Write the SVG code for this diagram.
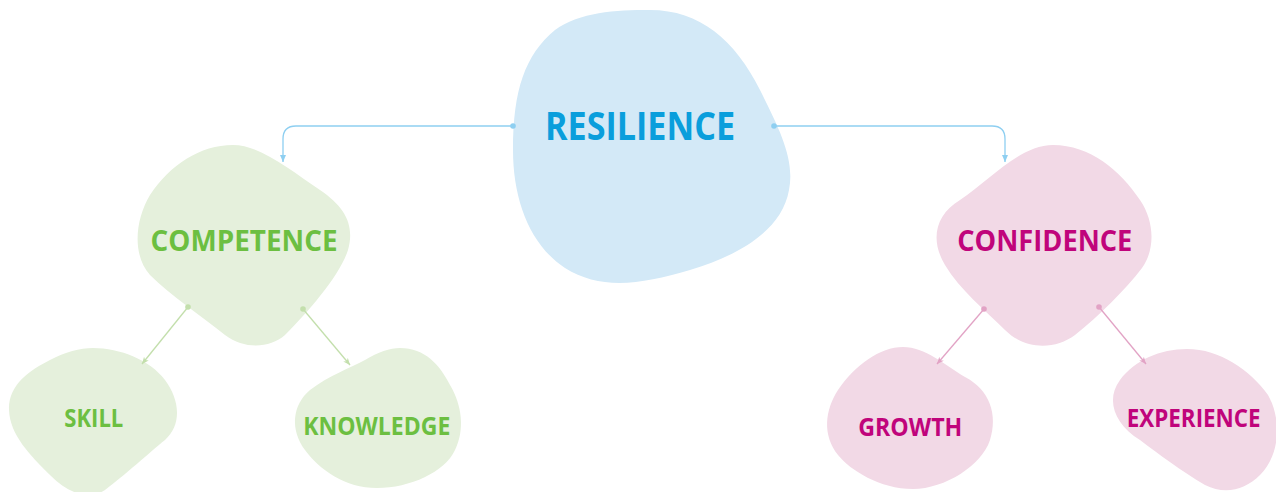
<svg xmlns="http://www.w3.org/2000/svg" width="1276" height="492" viewBox="0 0 1276 492">
  <style>
    .lbl { font-family: "Open Sans", "Noto Sans", "Liberation Sans", sans-serif; font-weight: 700; }
    .blue-fill { fill: #d3e9f7; }
    .green-fill { fill: #e5f0dc; }
    .pink-fill { fill: #f2d9e6; }
    .blue-txt { fill: #0a9edc; }
    .green-txt { fill: #6cbf41; }
    .pink-txt { fill: #c0047b; }
    .c-blue { fill: none; stroke: #8ecff1; stroke-width: 1.3; }
    .c-green { fill: none; stroke: #c3dfac; stroke-width: 1.3; }
    .c-pink { fill: none; stroke: #e2a3c5; stroke-width: 1.3; }
  </style>
  <defs>
    <marker id="arrow-blue" markerWidth="8" markerHeight="8" refX="7" refY="4" orient="auto" markerUnits="userSpaceOnUse">
      <path d="M0,1 L7,4 L0,7 Z" fill="#8ecff1"/>
    </marker>
    <marker id="arrow-green" markerWidth="8" markerHeight="8" refX="7" refY="4" orient="auto" markerUnits="userSpaceOnUse">
      <path d="M0,1 L7,4 L0,7 L2,4 Z" fill="#c3dfac"/>
    </marker>
    <marker id="arrow-pink" markerWidth="8" markerHeight="8" refX="7" refY="4" orient="auto" markerUnits="userSpaceOnUse">
      <path d="M0,1 L7,4 L0,7 L2,4 Z" fill="#e2a3c5"/>
    </marker>
  </defs>

  <!-- nodes -->
  <g id="resilience">
    <path class="blue-fill" d="M 650,10 C 700,10 735,40 760,90 C 780,130 795,160 789,190 C 782,230 740,255 690,270 C 640,285 600,290 565,268 C 530,245 513,200 513,150 C 513,90 525,55 555,30 C 580,12 615,10 650,10 Z"/>
    <text class="lbl blue-txt" x="545" y="140" font-size="39" textLength="190" lengthAdjust="spacingAndGlyphs">RESILIENCE</text>
  </g>

  <g id="competence">
    <path class="green-fill" d="M 233,145 C 260,145 290,170 320,190 C 345,207 355,225 348,250 C 340,275 310,310 285,335 C 270,348 245,350 225,335 C 200,315 170,295 150,275 C 132,255 135,220 150,195 C 170,165 200,145 233,145 Z"/>
    <text class="lbl green-txt" x="150.5" y="250.7" font-size="29" textLength="187" lengthAdjust="spacingAndGlyphs">COMPETENCE</text>
  </g>

  <g id="confidence">
    <path class="pink-fill" d="M 1053,145 C 1090,145 1120,170 1140,200 C 1155,222 1155,250 1142,268 C 1125,290 1100,315 1075,335 C 1055,350 1025,350 1005,330 C 985,310 960,290 945,265 C 930,240 935,215 960,200 C 990,180 1020,145 1053,145 Z"/>
    <text class="lbl pink-txt" x="957.3" y="250.7" font-size="29" textLength="175" lengthAdjust="spacingAndGlyphs">CONFIDENCE</text>
  </g>

  <g id="skill">
    <path class="green-fill" d="M 93,348 C 120,348 150,360 165,380 C 180,400 182,425 165,440 C 150,452 125,475 105,490 C 90,500 70,495 50,475 C 30,455 10,435 9,410 C 8,385 30,370 50,360 C 65,352 80,348 93,348 Z"/>
    <text class="lbl green-txt" x="64.3" y="426.7" font-size="24.5" textLength="59" lengthAdjust="spacingAndGlyphs">SKILL</text>
  </g>

  <g id="knowledge">
    <path class="green-fill" d="M 400,348 C 425,348 440,365 450,385 C 462,405 465,430 455,450 C 445,472 410,488 377,488 C 345,488 320,470 305,450 C 290,430 292,405 310,390 C 330,375 350,368 365,360 C 378,352 390,348 400,348 Z"/>
    <text class="lbl green-txt" x="303.3" y="435" font-size="24.5" textLength="147" lengthAdjust="spacingAndGlyphs">KNOWLEDGE</text>
  </g>

  <g id="growth">
    <path class="pink-fill" d="M 903,347 C 925,347 945,365 965,377 C 990,390 998,415 990,440 C 982,465 945,489 913,489 C 880,489 850,470 838,455 C 822,435 825,410 838,390 C 855,365 880,347 903,347 Z"/>
    <text class="lbl pink-txt" x="858.3" y="435.7" font-size="24.5" textLength="104" lengthAdjust="spacingAndGlyphs">GROWTH</text>
  </g>

  <g id="experience">
    <path class="pink-fill" d="M 1187,349 C 1220,349 1250,370 1268,395 C 1282,420 1280,455 1260,475 C 1245,490 1225,495 1205,485 C 1180,470 1160,455 1140,440 C 1115,425 1105,400 1120,380 C 1135,360 1160,349 1187,349 Z"/>
    <text class="lbl pink-txt" x="1126.7" y="426.7" font-size="24.5" textLength="134" lengthAdjust="spacingAndGlyphs">EXPERIENCE</text>
  </g>

  <!-- connectors -->
  <g id="connectors">
    <path class="c-blue" d="M 513,126 L 296,126 Q 283,126 283,139 L 283,162" marker-end="url(#arrow-blue)"/>
    <circle cx="513" cy="126" r="2.8" fill="#8ecff1"/>
    <path class="c-blue" d="M 774,126 L 992,126 Q 1005,126 1005,139 L 1005,162" marker-end="url(#arrow-blue)"/>
    <circle cx="774" cy="126" r="2.8" fill="#8ecff1"/>

    <path class="c-green" d="M 188,307 L 142,364" marker-end="url(#arrow-green)"/>
    <circle cx="188" cy="307" r="2.8" fill="#c3dfac"/>
    <path class="c-green" d="M 303,309 L 350,365" marker-end="url(#arrow-green)"/>
    <circle cx="303" cy="309" r="2.8" fill="#c3dfac"/>

    <path class="c-pink" d="M 984,309 L 937,364" marker-end="url(#arrow-pink)"/>
    <circle cx="984" cy="309" r="2.8" fill="#e2a3c5"/>
    <path class="c-pink" d="M 1099,307 L 1146,364" marker-end="url(#arrow-pink)"/>
    <circle cx="1099" cy="307" r="2.8" fill="#e2a3c5"/>
  </g>
</svg>
